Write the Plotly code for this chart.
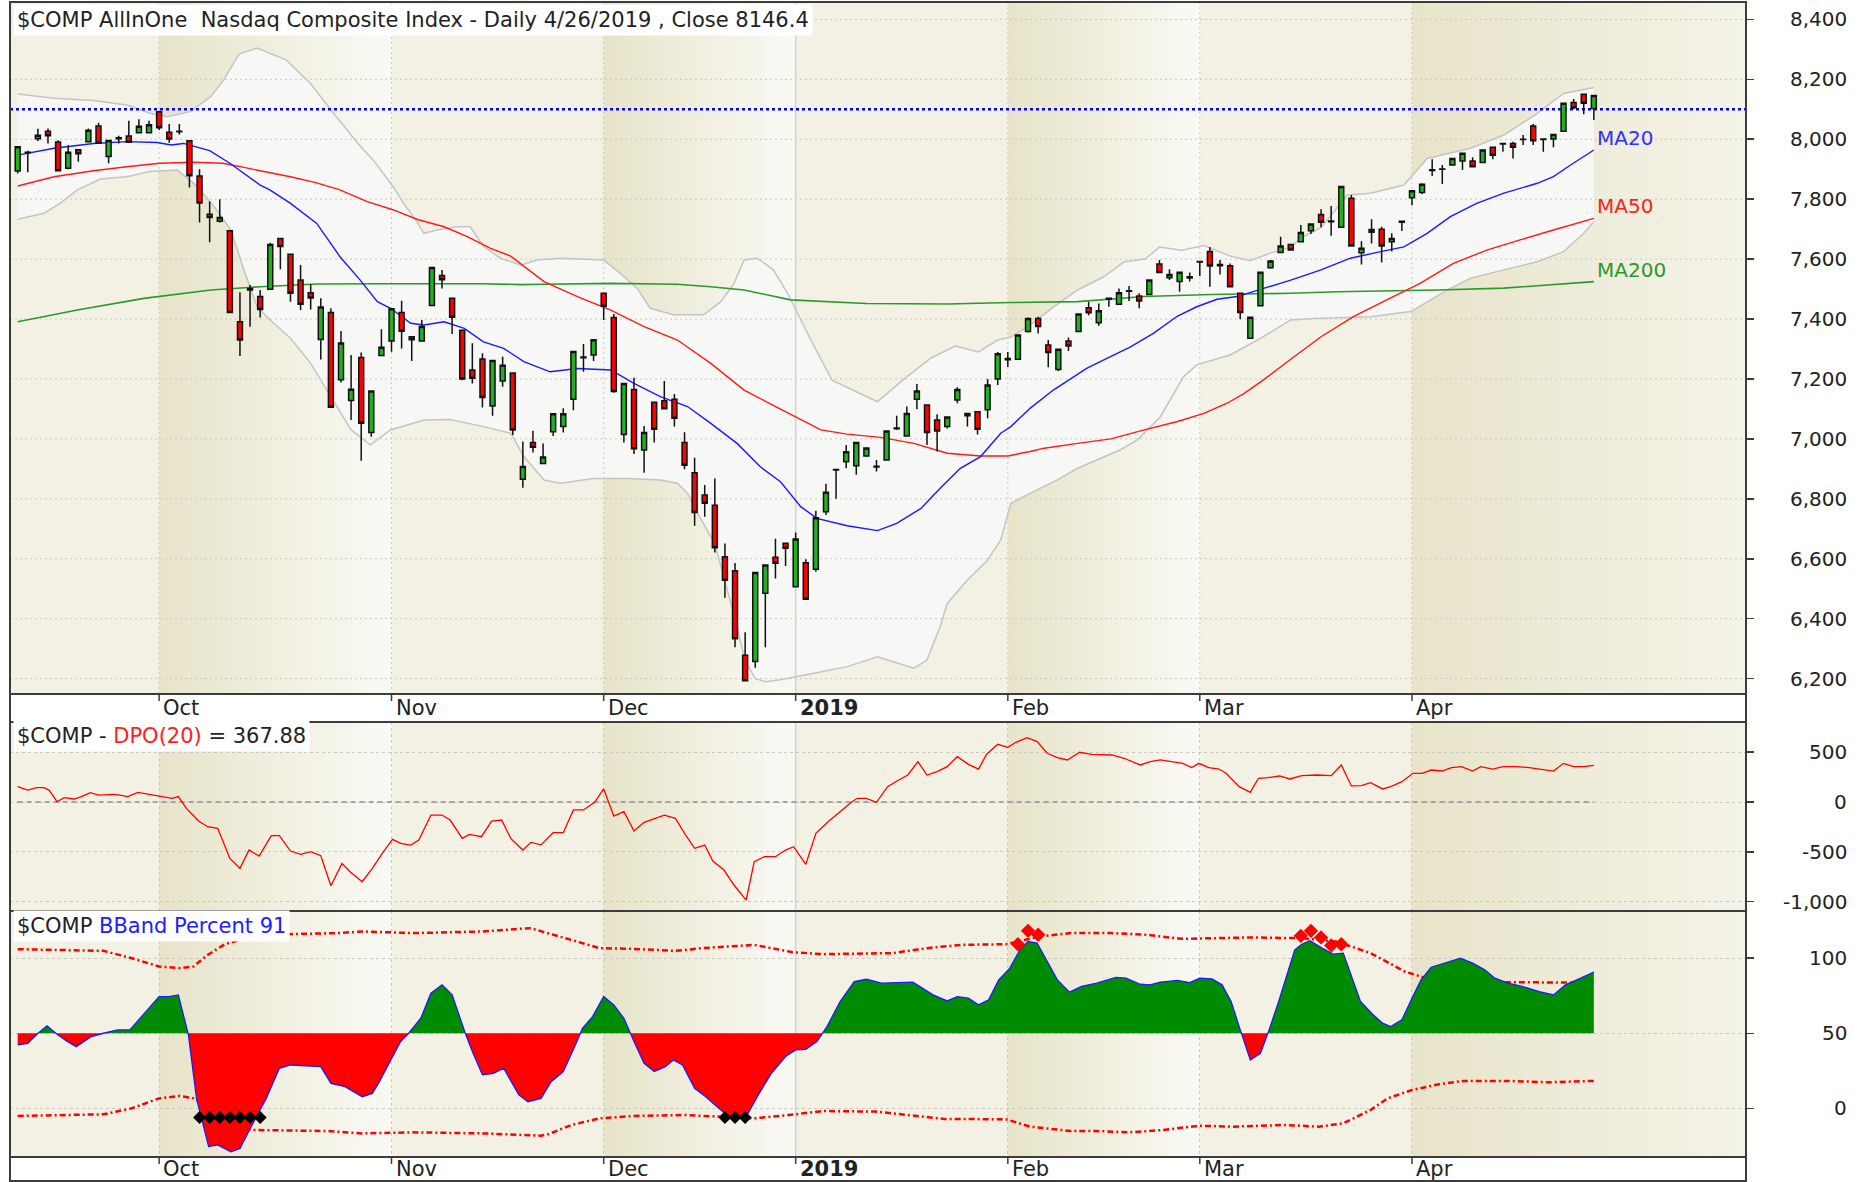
import plotly.graph_objects as go

# ---------------- DATA ----------------
# trading-day index: 0 = Oct 1 2018 ; first candle (-14) = Sep 11 2018 ; last (142) = Apr 26 2019
first_day = -14

opens = [7894, 7957, 8002, 8027, 7991, 7903, 7965, 7992, 8044, 7942, 8002, 8011, 8022, 8022,
         8092, 8023, 8027, 7995, 7877, 7750, 7726, 7695, 7391, 7502, 7475, 7499, 7669, 7616, 7530, 7488, 7332, 7422, 7197, 7128, 7272, 7021, 7278,
         7327, 7422, 7341, 7327, 7445, 7545, 7469, 7363, 7230, 7267, 7110, 7193, 7220, 6865, 6988, 6918, 7024, 7041, 7132, 7273, 7280,
         7486, 7405, 7015, 7165, 6963, 7122, 7127, 7132, 6988, 6887, 6813, 6779, 6607, 6560, 6278, 6257, 6485, 6605, 6652,
         6507, 6587, 6565, 6757, 6898, 6924, 6910, 6943, 6909, 6930, 7036, 7010, 7132, 7113, 7063, 7041, 7130, 7077, 7091, 7097, 7200,
         7268, 7266, 7358, 7402, 7313, 7232, 7327, 7358, 7438, 7388, 7466, 7449, 7494, 7477, 7482, 7584, 7538, 7525, 7541,
         7590, 7625, 7582, 7578, 7486, 7336, 7444, 7571, 7622, 7649, 7658, 7695, 7749, 7727, 7706, 7803, 7621, 7699, 7700, 7658, 7723,
         7805, 7822, 7898, 7901, 7914, 7927, 7927, 7922, 7973, 7984, 7986, 7999, 8044, 7999, 8001, 8027, 8123, 8150, 8103]
highs = [7976, 7962, 8035, 8036, 7997, 7980, 7966, 8036, 8055, 7998, 8012, 8062, 8067, 8062,
         8095, 8051, 8051, 7996, 7900, 7792, 7800, 7697, 7489, 7514, 7497, 7655, 7670, 7617, 7580, 7516, 7469, 7436, 7360, 7280, 7288, 7160, 7366,
         7434, 7461, 7342, 7397, 7573, 7564, 7470, 7364, 7319, 7286, 7263, 7274, 7221, 6991, 7027, 6985, 7085, 7102, 7294, 7317, 7332,
         7487, 7417, 7186, 7204, 7043, 7123, 7193, 7150, 7022, 6937, 6846, 6868, 6651, 6586, 6355, 6554, 6580, 6667, 6652,
         6688, 6598, 6760, 6850, 6899, 6980, 6989, 6971, 6930, 7027, 7077, 7108, 7183, 7114, 7082, 7074, 7172, 7086, 7092, 7200, 7290,
         7290, 7348, 7405, 7408, 7330, 7299, 7338, 7418, 7458, 7452, 7470, 7502, 7510, 7486, 7531, 7597, 7566, 7556, 7555,
         7593, 7640, 7597, 7585, 7487, 7406, 7556, 7597, 7675, 7650, 7714, 7718, 7766, 7777, 7845, 7814, 7660, 7733, 7708, 7686, 7727,
         7829, 7853, 7933, 7914, 7937, 7953, 7940, 7965, 7974, 7987, 7992, 8014, 8051, 8002, 8017, 8123, 8134, 8151, 8148]
lows = [7886, 7890, 7994, 7986, 7892, 7900, 7925, 7990, 7984, 7920, 7986, 7988, 8020, 8020,
        8031, 7988, 8016, 7839, 7722, 7656, 7722, 7421, 7277, 7374, 7405, 7497, 7566, 7458, 7430, 7432, 7265, 7105, 7188, 7063, 6927, 7007, 7277,
        7291, 7302, 7260, 7326, 7444, 7502, 7350, 7196, 7185, 7105, 7077, 7174, 7013, 6837, 6955, 6917, 7010, 7021, 7096, 7224, 7260,
        7397, 7154, 6988, 6950, 6887, 6988, 7101, 7041, 6899, 6710, 6740, 6621, 6470, 6305, 6190, 6236, 6305, 6534, 6576,
        6506, 6464, 6557, 6746, 6800, 6902, 6880, 6941, 6891, 6929, 7030, 7009, 7099, 6980, 6958, 7035, 7119, 7041, 7015, 7069, 7180,
        7240, 7263, 7355, 7352, 7239, 7227, 7293, 7356, 7413, 7378, 7441, 7449, 7460, 7436, 7481, 7554, 7530, 7491, 7525,
        7544, 7508, 7549, 7508, 7399, 7335, 7443, 7568, 7621, 7628, 7657, 7684, 7706, 7678, 7705, 7643, 7582, 7652, 7589, 7625, 7694,
        7780, 7817, 7877, 7851, 7912, 7897, 7908, 7920, 7933, 7958, 7936, 7981, 7981, 7958, 7973, 8027, 8100, 8083, 8064]
closes = [7975, 7955, 8013, 8012, 7895, 7957, 7952, 8030, 7987, 7996, 8005, 7990, 8043, 8048,
          8038, 8001, 8025, 7878, 7787, 7739, 7739, 7422, 7330, 7497, 7432, 7649, 7642, 7486, 7449, 7470, 7440, 7106, 7320, 7166, 7052, 7160, 7306,
          7434, 7359, 7331, 7375, 7572, 7531, 7406, 7200, 7202, 7138, 7262, 7246, 7030, 6908, 6972, 6940, 7084, 7084, 7292, 7271, 7331,
          7443, 7158, 7185, 6967, 7021, 7032, 7101, 7069, 6912, 6754, 6785, 6637, 6528, 6333, 6193, 6554, 6579, 6585, 6635,
          6666, 6465, 6737, 6822, 6896, 6957, 6988, 6970, 6906, 7026, 7034, 7085, 7160, 7021, 7026, 7073, 7165, 7085, 7032, 7180, 7284,
          7264, 7347, 7402, 7375, 7288, 7299, 7310, 7417, 7421, 7428, 7469, 7488, 7493, 7460, 7530, 7555, 7549, 7556, 7537,
          7592, 7577, 7578, 7508, 7422, 7406, 7556, 7594, 7644, 7630, 7689, 7717, 7723, 7725, 7842, 7644, 7636, 7690, 7644, 7669, 7726,
          7828, 7850, 7896, 7900, 7936, 7953, 7908, 7964, 7947, 7986, 7973, 8000, 7995, 8001, 8016, 8120, 8105, 8120, 8146]

ma20_x = [-14, -10.4, -6.5, -3.2, -0.2, 1.2, 2.4, 5, 7, 10, 11, 13, 15.6, 17.9, 19.9, 21.6, 22.9, 24.9, 26.2, 28.2,
          30.2, 32.1, 34.1, 36.1, 38.7, 41.4, 44.7, 47, 49.6, 52.3, 54.6, 57.2, 59.5, 61.5, 63.5, 65.1, 68.1, 71.1, 73, 75.4,
          77.3, 79.3, 81.3, 83.3, 84.3, 86.2, 88.5, 91.8, 93.8, 96.1, 98.4, 100.8, 102.7, 104.7, 106.7, 109, 112, 115, 117.9, 120.9,
          123.2, 125.5, 127.8, 130.4, 133.1, 136.4, 138, 139.7, 142]
ma20_v = [7947, 7970, 7986, 7992, 7989, 7981, 7986, 7962, 7920, 7847, 7830, 7786, 7719, 7608, 7530, 7458, 7436, 7386, 7380, 7391,
          7369, 7324, 7302, 7258, 7224, 7235, 7230, 7185, 7141, 7108, 7052, 6985, 6907, 6857, 6774, 6735, 6710, 6694, 6718, 6768,
          6835, 6902, 6941, 7019, 7041, 7102, 7163, 7235, 7269, 7306, 7352, 7410, 7441, 7466, 7475, 7499, 7530, 7564, 7603, 7625,
          7641, 7686, 7742, 7786, 7820, 7853, 7875, 7914, 7964]

ma50_x = [-14, -10.4, -6.5, -3.2, 0.1, 3.4, 6.3, 8.4, 10, 13, 15.5, 17.9, 20.6, 23.2, 25.5, 28.2, 30.5, 32.8, 34.8, 38.1,
          41.4, 44.7, 48, 51.3, 54.6, 57.9, 61.5, 65.5, 68.1, 71.4, 74.7, 78, 81.3, 84, 86.2, 87.6, 90.9, 94.2, 97.5, 100.8,
          103.4, 105.7, 107.4, 109.3, 112, 115, 118.2, 121.5, 124.8, 128.1, 131.4, 134.7, 138, 142]
ma50_v = [7844, 7875, 7895, 7908, 7920, 7923, 7920, 7906, 7895, 7875, 7855, 7831, 7792, 7764, 7733, 7708, 7675, 7636, 7610, 7525,
          7475, 7430, 7375, 7330, 7252, 7163, 7099, 7030, 7016, 7005, 6985, 6952, 6943, 6943, 6958, 6969, 6985, 7000, 7030, 7058,
          7085, 7119, 7152, 7197, 7266, 7341, 7408, 7464, 7519, 7586, 7630, 7664, 7697, 7736]

ma200_x = [-14, -8.1, -1.5, 5.1, 10, 15.6, 22.2, 32, 35.8, 38.1, 44.7, 51.3, 54.6, 57.9, 62.5, 70, 78, 84.3, 90.9, 97.5,
           104.1, 112, 116.6, 126.6, 133.1, 142]
ma200_v = [7391, 7430, 7469, 7497, 7508, 7517, 7518, 7518, 7515, 7516, 7519, 7516, 7508, 7497, 7464, 7452, 7450, 7455, 7458, 7475,
           7482, 7486, 7491, 7497, 7503, 7525]

bbu_x = [-14, -10.4, -6.5, -3.2, -0.9, 0.8, 3.1, 5.1, 6.4, 7.9, 9.7, 12.6, 15, 17.3, 19.7, 21.3, 23.2, 24.2, 25.5, 26.2,
         27.5, 29.5, 30.8, 32.1, 33.8, 35.8, 37.4, 39.7, 44, 45.6, 47.3, 48.6, 50.9, 53.9, 55.6, 56.9, 57.9, 59.2, 60.8, 62.2,
         64.5, 66.6, 71.1, 73.6, 76.4, 78.8, 81.1, 83, 84.3, 86.2, 88.5, 90.9, 93.5, 95.5, 97.6, 99, 101.2, 103.4, 106, 108,
         110, 112, 113, 115, 117.6, 119.9, 123.2, 124.2, 125.5, 129.8, 133.1, 136.4, 139, 142]
bbu_v = [8151, 8137, 8129, 8114, 8087, 8075, 8092, 8142, 8198, 8284, 8304, 8264, 8185, 8085, 7985, 7926, 7840, 7786, 7725, 7686,
         7697, 7708, 7708, 7642, 7603, 7580, 7597, 7603, 7597, 7553, 7503, 7436, 7414, 7414, 7458, 7519, 7597, 7603, 7564, 7486,
         7330, 7196, 7124, 7196, 7270, 7310, 7290, 7330, 7340, 7380, 7440, 7497, 7541, 7591, 7600, 7640, 7630, 7645, 7610, 7595,
         7620, 7640, 7670, 7705, 7814, 7820, 7847, 7886, 7936, 7970, 8014, 8086, 8153, 8173]

bbl_x = [-14, -11.4, -9.8, -8.1, -5.8, -3.2, -0.9, 1.8, 3.8, 5.7, 7.1, 8.4, 9.7, 11, 13, 15, 17, 19, 20.9, 22.9,
         26.2, 28.8, 32.1, 34.8, 36.1, 38.1, 39.7, 43, 46.3, 49.6, 51.3, 52.3, 53.3, 55, 57, 58, 59, 60, 61.5, 64.8,
         68.1, 71.1, 74.7, 76, 77.3, 78, 80, 82, 83.3, 84.3, 86.2, 88.9, 90.9, 95.1, 96.8, 99.1, 101.4, 102.7, 106, 109.3,
         112, 114.3, 119.9, 123.9, 127.5, 129.8, 133.1, 136.4, 139, 141, 142]
bbl_v = [7733, 7753, 7786, 7831, 7867, 7875, 7892, 7897, 7842, 7764, 7697, 7564, 7441, 7397, 7336, 7252, 7141, 7030, 6980, 7030,
         7063, 7065, 7041, 7019, 6941, 6863, 6852, 6868, 6868, 6863, 6852, 6818, 6752, 6650, 6400, 6260, 6200, 6190, 6196, 6218,
         6240, 6273, 6235, 6262, 6374, 6451, 6529, 6596, 6663, 6785, 6818, 6863, 6902, 6963, 6996, 7074, 7208, 7247, 7280, 7341,
         7397, 7402, 7408, 7425, 7497, 7536, 7564, 7591, 7625, 7686, 7725]

ref_level = 8100

dpo_x = [-14, -13, -12.1, -11.4, -10.9, -10.1, -9.4, -8.4, -7.7, -6.8, -6, -4.5, -3.9, -3.1, -2.1, -0.5, 0.3, 1.3, 1.9, 2.7,
         3.9, 4.8, 5.8, 7, 8, 8.9, 9.9, 11.1, 11.9, 13, 14, 15, 16, 17, 18.1, 18.9, 20.1, 21.1, 22.2, 23.1,
         23.9, 24.9, 25.7, 26.9, 28, 28.8, 30, 30.7, 31.9, 32.9, 33.9, 34.8, 36, 36.8, 37.8, 39, 40, 41, 42, 43.1,
         44, 45, 46, 47, 48, 49, 50, 51.1, 52.1, 53, 54, 54.8, 55.9, 56.9, 58.1, 58.9, 59.9, 61, 62, 62.8,
         64, 65, 66.4, 67.4, 68.5, 69.1, 70, 71, 72.1, 73.2, 74.1, 75.1, 76, 77, 78, 79, 80.1, 81.1, 81.9, 83,
         84, 84.8, 85.9, 86.9, 87.9, 88.9, 89.9, 91.1, 92.3, 94.3, 95.5, 97.1, 98.1, 99.1, 100.5, 101.3, 102.2, 102.9, 103.9, 104.9,
         105.6, 106.9, 108, 108.8, 109.7, 110.9, 111.9, 113.1, 114.6, 116, 117, 118, 119, 119.9, 121.1, 121.9, 123, 124.1, 125, 125.9,
         127, 127.9, 128.9, 130, 130.8, 132, 133, 134.4, 135.6, 136.8, 138, 139, 140, 141, 142]
dpo_v = [154, 120, 144, 144, 120, 3, 44, 30, 54, 94, 70, 77, 70, 54, 97, 70, 54, 37, 54, -64,
         -191, -248, -264, -566, -666, -482, -542, -338, -338, -492, -526, -499, -539, -840, -616, -700, -800, -666, -499, -375,
         -415, -432, -382, -131, -131, -181, -365, -325, -348, -191, -181, -365, -482, -405, -430, -308, -308, -80, -80, -3,
         131, -141, -97, -291, -204, -171, -131, -164, -331, -465, -432, -592, -683, -833, -984, -599, -549, -549, -482, -449,
         -626, -315, -181, -97, -3, 37, 37, -3, 154, 221, 271, 405, 271, 305, 355, 455, 378, 331, 479, 579,
         549, 599, 646, 606, 489, 445, 422, 499, 479, 472, 439, 372, 405, 422, 405, 388, 345, 388, 345, 331,
         288, 154, 97, 238, 244, 261, 231, 264, 271, 264, 372, 161, 164, 194, 131, 154, 204, 288, 288, 321,
         311, 345, 355, 311, 355, 331, 355, 355, 345, 331, 311, 388, 355, 355, 367.88]

bbp_x = [-14, -13, -12.1, -11.1, -10.1, -9.1, -8.2, -6.7, -5.5, -4.1, -2.9, -1.4, 0, 1, 1.9, 2.9, 3.7, 4.9, 5.8, 7.1,
         8, 9.2, 10.6, 11.9, 13, 16, 17, 18.4, 20.1, 21.1, 21.8, 23.9, 24.7, 25.9, 26.9, 28, 29, 30.3, 31, 32,
         33.1, 34.1, 35.6, 36.5, 37.8, 38.8, 40, 41.2, 41.9, 42.9, 44, 45, 46, 47, 48, 49, 50.1, 50.9, 51.8, 53,
         54.1, 55.2, 56.2, 57.2, 58.2, 59.3, 60.6, 62, 63, 64, 65.1, 66.1, 67.4, 68.8, 70, 71.5, 74.6, 76.6, 78, 79,
         80.1, 81.1, 82.1, 83.1, 84.2, 85.2, 86, 86.9, 87.9, 88.9, 90.1, 91.3, 92.8, 94.7, 95.7, 97.1, 98.1, 99.1, 100.8, 102,
         103, 104.2, 105.2, 106.1, 106.9, 108, 109, 109.8, 110.7, 111.5, 112.4, 113.1, 113.9, 115.1, 116.2, 117.2, 118, 118.9, 120.1, 121.1,
         121.9, 123, 124, 124.9, 125.9, 127.1, 128.8, 130, 131.2, 132.2, 133.5, 134.9, 136.6, 138, 139.2, 140.7, 142]
bbp_v = [42.2, 43.3, 49.3, 54.9, 49.3, 44.5, 41.1, 47.8, 50, 52.2, 52.2, 63.3, 74.4, 74.4, 75.5, 48.9, 6.7, -25.4, -24.3, -28.8,
         -26.6, -11, 6.7, 26.7, 28.9, 27.8, 16.7, 14.5, 7.8, 10, 17.8, 44.5, 50, 60, 76.6, 82.2, 75.5, 50, 37.8, 22.3,
         23.4, 26.7, 9, 4.5, 6.7, 17.8, 24.5, 42.2, 53.3, 61.1, 74.4, 68.9, 60, 44.5, 30, 24.5, 27.8, 32.2, 28.9, 13.4,
         7.8, 1.2, -4.4, -6.6, -4.4, 9, 23.4, 34.5, 38.9, 39.3, 44.5, 54.4, 71.1, 84.4, 85.9, 83.3, 84, 75.5, 71.5, 74.4,
         73.3, 68.9, 72.2, 85.5, 93.3, 105.5, 111, 110, 97.7, 85.5, 77.3, 81.1, 83.3, 87.1, 86.6, 82.6, 82.2, 84, 85.1, 83.7,
         86.6, 86.2, 82.2, 71.1, 54.4, 32.2, 36.7, 51.1, 68.9, 86.6, 105.5, 109.2, 111.5, 106.6, 102.6, 103.3, 88.8, 71.1, 62.6, 56.7,
         54.4, 58.9, 73.3, 85.5, 93.9, 96.6, 99.9, 96.6, 92.2, 86.6, 83.3, 81.1, 77.7, 75.5, 82.2, 86.6, 90.6]

bbp_up_x = [-14, -5.5, -2.7, 0, 2, 3.4, 4.8, 6.5, 8.8, 12.6, 17.7, 20.1, 25.2, 32, 36.75, 40.2, 43.6, 47, 51.1, 53.8,
            58.9, 62.7, 65.7, 72.6, 76, 79.4, 83.8, 87.2, 90.2, 94.3, 97.7, 101.2, 108, 113.1, 116.5, 119.9, 123.3, 125.4, 126.7, 130.1,
            137, 142]
bbp_up_v = [105.9, 104.8, 99.9, 94.4, 93.3, 94.4, 102.1, 109.2, 113.7, 115.9, 116.6, 117.7, 116.6, 117.7, 119.9, 113.2, 106.6, 106.1, 104.8, 106.6,
            108.8, 103.9, 102.6, 103.3, 106.6, 108.8, 109.2, 114.4, 116.6, 116.6, 115.5, 112.8, 113.7, 113.2, 111, 103.3, 91, 86.6, 84.4, 84,
            83.7, 83.7]
bbp_lo_x = [-14, -5.5, -2.7, 0, 2, 3.4, 8.8, 16.7, 20.1, 25.2, 32, 37.8, 38.5, 40.8, 43.6, 47, 52.1, 55.5, 58.9, 62.3,
            65.7, 70.9, 74.3, 77.7, 83.8, 86.2, 90.2, 92.6, 96, 99.4, 102.9, 106.3, 111.4, 114.8, 117.2, 119.9, 121.6, 124, 126.7, 129.1,
            133.5, 137.6, 142]
bbp_lo_v = [-5, -3.9, 0.1, 6.7, 8.3, 6.7, -14.3, -15, -16.6, -15.9, -16.6, -18.1, -17.2, -11, -6.6, -5, -4.4, -5.5, -6.6, -4.4,
            -1.7, -2.1, -4.4, -7, -7.2, -12.1, -15, -15, -15.9, -14.3, -11.5, -12.1, -11, -12.1, -9.9, -1, 6.7, 12.3, 16.1, 18.3,
            18.3, 17.4, 18.3]

low_signal_days = [4, 5, 6, 7, 8, 9, 10, 56, 57, 58]
low_signal_v = [-6.1, -6.1, -6.1, -6.1, -6.1, -6.1, -6.1, -6.1, -6.1, -6.1]
high_signal_days = [85, 86, 87, 113, 114, 115, 116, 117]
high_signal_v = [109.2, 118.1, 115.5, 114.8, 118.1, 113.7, 108.4, 109.2]

month_pos = [0, 23, 44, 63, 84, 103, 124]
month_labels = ["Oct", "Nov", "Dec", "2019", "Feb", "Mar", "Apr"]

price_ticks = [6200, 6400, 6600, 6800, 7000, 7200, 7400, 7600, 7800, 8000, 8200, 8400]
dpo_ticks = [500, 0, -500, -1000]
bbp_ticks = [100, 50, 0]

title_text = "$COMP AllInOne\u00a0\u00a0Nasdaq Composite Index - Daily 4/26/2019 , Close 8146.4"

# ---------------- LAYOUT CONSTANTS ----------------
W, H = 1871, 1182
ML, MR, MT, MB = 10, 125, 2, 25
PW, PH = W - ML - MR, H - MT - MB


def py(pix):  # pixel y -> paper y
    return (H - MB - pix) / PH


def px(pix):  # pixel x -> paper x
    return (pix - ML) / PW


XR = [-14.76, 157.06]
D_MAIN = [py(694), 1.0]
D_DPO = [py(911), py(722)]
D_BBP = [0.0, py(911)]
R_MAIN = [6148.7, 8458.0]
R_DPO = [-1094.0, 803.0]
R_BBP = [-32.3, 131.3]

FONT = "DejaVu Sans"
GREEN = "#22b022"
RED = "#ff0000"
GRID = "#c9c9c2"

days = list(range(first_day, first_day + len(closes)))

fig = go.Figure()

# ---------------- MAIN PANEL (candles; overlays are drawn beneath as data-space paths) ----------------
fig.add_trace(go.Candlestick(x=days, open=opens, high=highs, low=lows, close=closes,
                             increasing=dict(fillcolor=GREEN, line=dict(color="#111111", width=1.5)),
                             decreasing=dict(fillcolor=RED, line=dict(color="#111111", width=1.5)),
                             whiskerwidth=0, xaxis="x", yaxis="y", hoverinfo="skip"))

# ---------------- DPO PANEL ----------------
fig.add_trace(go.Scatter(x=[days[0], days[-1]], y=[0, 0], mode="lines",
                         line=dict(color="#8f8f8f", width=1.5, dash="5px,4px"), xaxis="x2", yaxis="y2", hoverinfo="skip"))
fig.add_trace(go.Scatter(x=dpo_x, y=dpo_v, mode="lines", line=dict(color="#ff0000", width=1.3), xaxis="x2", yaxis="y2"))

# ---------------- %B PANEL ----------------
for xs, vs in ((bbp_up_x, bbp_up_v), (bbp_lo_x, bbp_lo_v)):
    fig.add_trace(go.Scatter(x=xs, y=vs, mode="lines", line=dict(color="#ff0000", width=2.5, dash="6px,3px,2px,3px"),
                             xaxis="x3", yaxis="y3", hoverinfo="skip"))

base = 50
sx, sy = [bbp_x[0]], [bbp_v[0]]
for k in range(1, len(bbp_x)):
    y0, y1 = bbp_v[k - 1], bbp_v[k]
    if (y0 - base) * (y1 - base) < 0:
        t = (base - y0) / (y1 - y0)
        sx.append(bbp_x[k - 1] + t * (bbp_x[k] - bbp_x[k - 1]))
        sy.append(base)
    sx.append(bbp_x[k])
    sy.append(y1)
up = [max(v, base) for v in sy]
dn = [min(v, base) for v in sy]
fig.add_trace(go.Scatter(x=sx + [sx[-1], sx[0]], y=up + [base, base], fill="toself", fillcolor="#008c00",
                         line=dict(width=0), mode="lines", xaxis="x3", yaxis="y3", hoverinfo="skip"))
fig.add_trace(go.Scatter(x=sx + [sx[-1], sx[0]], y=dn + [base, base], fill="toself", fillcolor="#ff0000",
                         line=dict(width=0), mode="lines", xaxis="x3", yaxis="y3", hoverinfo="skip"))
fig.add_trace(go.Scatter(x=bbp_x, y=bbp_v, mode="lines", line=dict(color="#1a1aff", width=1.3), xaxis="x3", yaxis="y3"))
fig.add_trace(go.Scatter(x=low_signal_days, y=low_signal_v, mode="markers",
                         marker=dict(symbol="diamond", size=10, color="#000000"), xaxis="x3", yaxis="y3"))
fig.add_trace(go.Scatter(x=high_signal_days, y=high_signal_v, mode="markers",
                         marker=dict(symbol="diamond", size=11, color="#ff0000"), xaxis="x3", yaxis="y3"))

# ---------------- SHAPES (background layer, in drawing order) ----------------
shapes = []


def mix(c1, c2, t):
    return "rgb(%d,%d,%d)" % tuple(round(a + (b - a) * t) for a, b in zip(c1, c2))


def data_path(xs, vs):
    return "M " + " L ".join("%g,%g" % (a, b) for a, b in zip(xs, vs))


DARK = (232, 228, 202)
LIGHT = (249, 249, 244)
bounds = month_pos + [XR[1]]
for xr, yr in (("x", "y domain"), ("x2", "y2 domain"), ("x3", "y3 domain")):
    for k in range(0, len(month_pos), 2):
        x0, x1 = bounds[k], bounds[k + 1]
        N = 24
        light = LIGHT if k + 1 < len(month_pos) else (244, 243, 232)
        for s in range(N):
            a = x0 + (x1 - x0) * s / N
            b = x0 + (x1 - x0) * (s + 1) / N + 0.05
            shapes.append(dict(type="rect", xref=xr, yref=yr, x0=a, x1=b, y0=0, y1=1, layer="below",
                               fillcolor=mix(DARK, light, s / (N - 1)), line=dict(width=0)))

# Bollinger band interior
shapes.append(dict(type="path", xref="x", yref="y",
                   path=data_path(bbu_x + bbl_x[::-1], bbu_v + bbl_v[::-1]) + " Z",
                   fillcolor="#f7f7f6", line=dict(width=0), layer="below"))

# grid lines (data refs so they are drawn above the band interior)
for v in price_ticks:
    shapes.append(dict(type="line", xref="x", yref="y", x0=XR[0], x1=XR[1], y0=v, y1=v, layer="below",
                       line=dict(color=GRID, width=1, dash="2px,3px")))
for m, lab in zip(month_pos, month_labels):
    if lab == "2019":
        shapes.append(dict(type="line", xref="x", yref="y", x0=m, x1=m, y0=R_MAIN[0], y1=R_MAIN[1], layer="below",
                           line=dict(color="#d4d4c6", width=1.5)))
        for xr, yr in (("x2", "y2 domain"), ("x3", "y3 domain")):
            shapes.append(dict(type="line", xref=xr, yref=yr, x0=m, x1=m, y0=0, y1=1, layer="below",
                               line=dict(color="#d4d4c6", width=1.5)))
    else:
        shapes.append(dict(type="line", xref="x", yref="y", x0=m, x1=m, y0=R_MAIN[0], y1=R_MAIN[1], layer="below",
                           line=dict(color=GRID, width=1, dash="2px,3px")))

# price overlays (under the candles)
for xs, vs, col, wd in ((bbu_x, bbu_v, "#c4c4c4", 1.5), (bbl_x, bbl_v, "#c4c4c4", 1.5),
                        (ma200_x, ma200_v, "#2a9a2a", 1.6), (ma50_x, ma50_v, "#ff1a1a", 1.4),
                        (ma20_x, ma20_v, "#1a1aff", 1.4)):
    shapes.append(dict(type="path", xref="x", yref="y", path=data_path(xs, vs), layer="below",
                       line=dict(color=col, width=wd)))
shapes.append(dict(type="line", xref="x", yref="y", x0=XR[0], x1=XR[1], y0=ref_level, y1=ref_level, layer="below",
                   line=dict(color="#0000ff", width=2.5, dash="dot")))

BORDER = "#3c3c3c"
shapes.append(dict(type="rect", xref="paper", yref="paper", x0=0, x1=1, y0=py(1181), y1=1,
                   line=dict(color=BORDER, width=2)))
for pix in (694, 722, 911, 1157):
    shapes.append(dict(type="line", xref="paper", yref="paper", x0=0, x1=1, y0=py(pix), y1=py(pix),
                       line=dict(color=BORDER, width=2)))
for m in month_pos:
    for top in (694, 1157):
        shapes.append(dict(type="line", xref="x", yref="paper", x0=m, x1=m, y0=py(top), y1=py(top + 7),
                           line=dict(color=BORDER, width=1.5)))

# ---------------- ANNOTATIONS ----------------
ann = []
TXT = "#222222"
for ref, ticks in (("y", price_ticks), ("y2", dpo_ticks), ("y3", bbp_ticks)):
    for v in ticks:
        ann.append(dict(xref="paper", yref=ref, x=px(1849), y=v, text=f"{v:,}", showarrow=False,
                        xanchor="right", yanchor="middle", font=dict(family=FONT, size=20, color=TXT)))
for m, lab in zip(month_pos, month_labels):
    txt = "<b>%s</b>" % lab if lab == "2019" else lab
    for ycen in (707.5, 1168.5):
        ann.append(dict(xref="x", yref="paper", x=m, y=py(ycen), text=txt, showarrow=False,
                        xanchor="left", yanchor="middle", xshift=2, font=dict(family=FONT, size=21, color=TXT)))
ann.append(dict(xref="paper", yref="paper", x=px(13), y=py(20), text=title_text, showarrow=False,
                xanchor="left", yanchor="middle", bgcolor="white", borderpad=3,
                font=dict(family=FONT, size=21, color=TXT)))
ann.append(dict(xref="paper", yref="paper", x=px(13), y=py(736), showarrow=False,
                text="$COMP - <span style='color:#ff2020'>DPO(20)</span> = 367.88",
                xanchor="left", yanchor="middle", bgcolor="white", borderpad=3,
                font=dict(family=FONT, size=21, color=TXT)))
ann.append(dict(xref="paper", yref="paper", x=px(13), y=py(926), showarrow=False,
                text="$COMP <span style='color:#2020ff'>BBand Percent 91</span>",
                xanchor="left", yanchor="middle", bgcolor="white", borderpad=3,
                font=dict(family=FONT, size=21, color=TXT)))
for name, vals, col in (("MA20", ma20_v, "#3030ff"), ("MA50", ma50_v, "#ff2020"), ("MA200", ma200_v, "#2a9a2a")):
    ann.append(dict(xref="x", yref="y", x=days[-1], y=vals[-1], text=name, showarrow=False,
                    xanchor="left", yanchor="bottom", xshift=1, yshift=-2, font=dict(family=FONT, size=20, color=col)))

axis_common = dict(showgrid=False, zeroline=False, showticklabels=False, fixedrange=True)
fig.update_layout(
    width=W, height=H, margin=dict(l=ML, r=MR, t=MT, b=MB),
    paper_bgcolor="white", plot_bgcolor="#f3f1e4", showlegend=False, hovermode=False,
    font=dict(family=FONT, size=19, color=TXT),
    xaxis=dict(domain=[0, 1], range=XR, anchor="y", rangeslider=dict(visible=False), **axis_common),
    xaxis2=dict(domain=[0, 1], range=XR, anchor="y2", matches="x", showgrid=True, gridcolor=GRID,
                griddash="dot", tickvals=[m for m in month_pos if m != 63], zeroline=False, showticklabels=False,
                fixedrange=True),
    xaxis3=dict(domain=[0, 1], range=XR, anchor="y3", matches="x", showgrid=True, gridcolor=GRID,
                griddash="dot", tickvals=[m for m in month_pos if m != 63], zeroline=False, showticklabels=False,
                fixedrange=True),
    yaxis=dict(domain=D_MAIN, range=R_MAIN, anchor="x", side="right", tickvals=price_ticks,
               ticks="outside", ticklen=7, tickcolor=BORDER, tickwidth=1.5, **axis_common),
    yaxis2=dict(domain=D_DPO, range=R_DPO, anchor="x2", side="right", tickvals=dpo_ticks,
                ticks="outside", ticklen=7, tickcolor=BORDER, tickwidth=1.5, showgrid=True, gridcolor=GRID,
                griddash="dot", zeroline=False, showticklabels=False, fixedrange=True),
    yaxis3=dict(domain=D_BBP, range=R_BBP, anchor="x3", side="right", tickvals=bbp_ticks,
                ticks="outside", ticklen=7, tickcolor=BORDER, tickwidth=1.5, showgrid=True, gridcolor=GRID,
                griddash="dot", zeroline=False, showticklabels=False, fixedrange=True),
    shapes=shapes, annotations=ann,
)

fig.write_html("out.html", config={"displayModeBar": False, "staticPlot": True},
               post_script="document.body.style.margin='0px';document.body.style.overflow='hidden';")
